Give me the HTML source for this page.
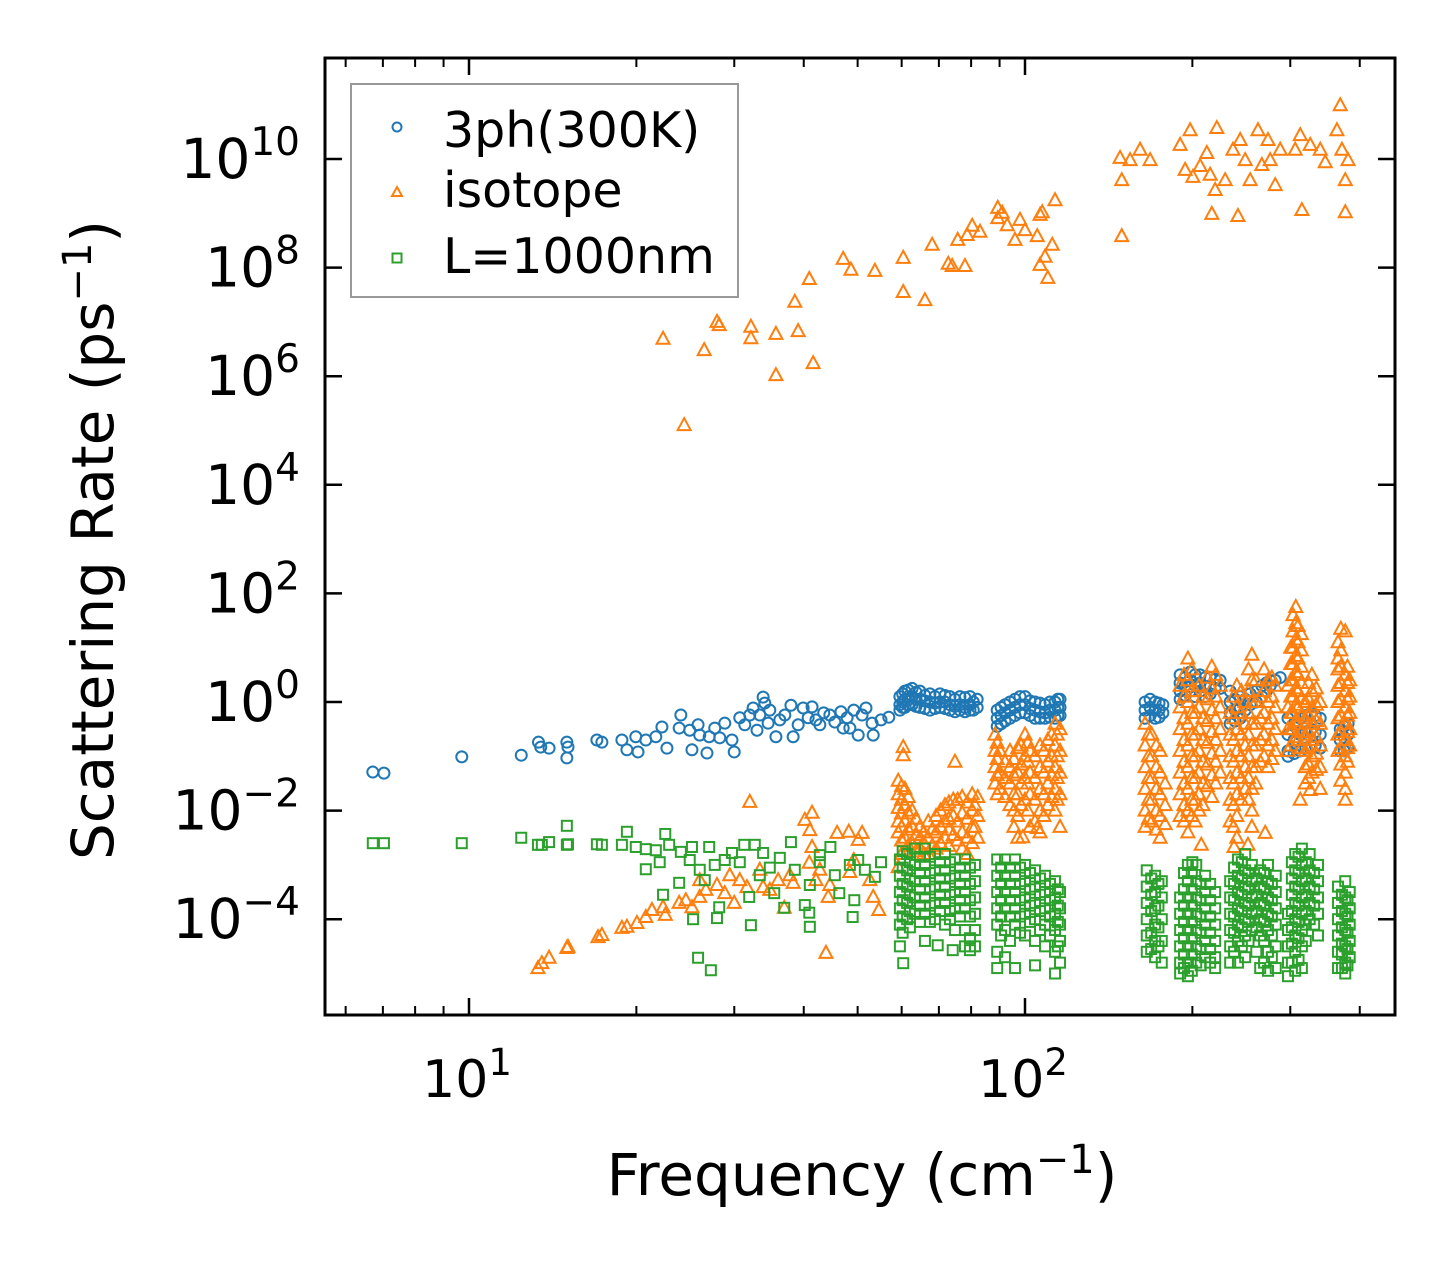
<!DOCTYPE html>
<html><head><meta charset="utf-8"><style>
html,body{margin:0;padding:0;background:#fff;}
svg{display:block;font-family:"DejaVu Sans","Liberation Sans",sans-serif;}
</style></head><body>
<svg id="chart" width="1455" height="1265" viewBox="0 0 1455 1265">
<rect x="0" y="0" width="1455" height="1265" fill="#fff"/>
<g id="marks"></g>
<g id="axes"></g>
<g id="legend">
<rect x="351" y="84" width="387" height="213" fill="#fff" fill-opacity="0.8" stroke="#999" stroke-width="2"/>
<circle cx="397" cy="127" r="4.5" fill="none" stroke="#1f77b4" stroke-width="2"/>
<text x="443" y="147" font-size="49">3ph(300K)</text>
<polygon points="397,187 402,196 392,196" fill="none" stroke="#ff7f0e" stroke-width="2"/>
<text x="443" y="207" font-size="49">isotope</text>
<rect x="392.5" y="253.5" width="9" height="9" fill="none" stroke="#2ca02c" stroke-width="2"/>
<text x="443" y="273" font-size="49">L=1000nm</text>
</g>
<text x="862" y="1195" font-size="58" text-anchor="middle">Frequency (cm<tspan dy="-22" font-size="40">−1</tspan><tspan dy="22">)</tspan></text>
<text transform="translate(113,540) rotate(-90)" font-size="58" text-anchor="middle">Scattering Rate (ps<tspan dy="-22" font-size="40">−1</tspan><tspan dy="22">)</tspan></text>
</svg>
<script>
// All values are log10 of frequency (cm^-1) and log10 of scattering rate (ps^-1)
const xTickExps = [1, 2];
const yTickExps = [-4, -2, 0, 2, 4, 6, 8, 10];
const xMinorVals = [6, 7, 8, 9, 20, 30, 40, 50, 60, 70, 80, 90, 200, 300, 400];

const ph3Freq = [0.827,0.847,0.987,1.094,1.125,1.129,1.144,1.176,1.178,1.176,1.230,1.239,1.275,1.284,1.300,1.304,1.318,1.336,1.347,1.356,1.381,1.378,1.401,1.412,1.428,1.432,1.460,1.473,1.477,1.487,1.511,1.529,1.532,1.538,1.552,1.579,1.583,1.601,1.617,1.624,1.638,1.669,1.673,1.692,1.700,1.714,1.725,1.727,1.741,1.755,1.397,1.415,1.442,1.451,1.496,1.505,1.518,1.559,1.568,1.592,1.610,1.631,1.649,1.658,1.680,1.707,1.685,1.541,1.523];
const ph3Rate = [-1.29,-1.31,-1.01,-0.98,-0.74,-0.83,-0.85,-0.74,-0.83,-1.03,-0.70,-0.74,-0.70,-0.88,-0.64,-0.92,-0.70,-0.64,-0.46,-0.85,-0.24,-0.48,-0.88,-0.42,-0.94,-0.64,-0.39,-0.70,-0.92,-0.29,-0.11,0.09,-0.02,-0.39,-0.64,-0.06,-0.64,-0.11,-0.09,-0.33,-0.20,-0.18,-0.48,-0.15,-0.61,-0.11,-0.39,-0.61,-0.33,-0.28,-0.52,-0.61,-0.48,-0.66,-0.42,-0.24,-0.52,-0.33,-0.24,-0.42,-0.29,-0.42,-0.24,-0.37,-0.29,-0.24,-0.48,-0.15,-0.24];
const ph3ColFreq = [1.775,1.784,1.797,1.811,1.829,1.847,1.865,1.883,1.901,1.914,1.950,1.964,1.982,2.000,2.018,2.036,2.054,2.063,2.216,2.234,2.248,2.279,2.297,2.315,2.333,2.351,2.369,2.387,2.405,2.426,2.441,2.459,2.473,2.495,2.514,2.531,2.567,2.581];
const ph3ColRate = [[0.1,-0.05,-0.15],[0.2,0.05,-0.1],[0.25,0.1,-0.05],[0.2,0.05,-0.1],[0.15,0,-0.15],[0.15,0,-0.1],[0.1,-0.05,-0.15],[0.1,-0.05,-0.15],[0.1,-0.05,-0.15],[0.05,-0.1],[-0.15,-0.3,-0.45],[-0.05,-0.2,-0.35],[0.05,-0.1,-0.25],[0.1,-0.05,-0.2],[0,-0.15,-0.3],[-0.05,-0.2,-0.3],[0,-0.15,-0.3],[0.05,-0.1,-0.25],[0,-0.15,-0.3],[0,-0.15,-0.3],[-0.05,-0.2],[0.5,0.35,0.2,0.05],[0.55,0.4,0.2],[0.5,0.35,0.2],[0.45,0.3,0.15],[0.4,0.25],[0.2,0,-0.2,-0.4],[0.1,-0.1,-0.3],[0.15,-0.05],[0.3,0.1],[0.4,0.3],[0.45],[-0.3,-0.6,-0.9,-1.0],[-0.3,-0.6,-0.9],[-0.2,-0.5,-0.8],[-0.3,-0.6,-0.85],[-0.5,-0.7,-0.9],[-0.4,-0.6,-0.85]];
const ph3Col2Freq = [1.780,1.790,1.804,1.820,1.838,1.856,1.874,1.892,1.907,1.957,1.973,1.991,2.009,2.027,2.045,2.059,2.225,2.241,2.288,2.306,2.324,2.342,2.378,2.396,2.416,2.434,2.450,2.484,2.505,2.522,2.574];
const ph3Col2Rate = [[0.15,0.0,-0.1],[0.22,0.1,-0.05],[0.18,0.05,-0.08],[0.12,0.02,-0.12],[0.1,-0.02,-0.12],[0.12,0.0,-0.12],[0.05,-0.08,-0.18],[0.08,-0.1,-0.18],[0.0,-0.15],[-0.1,-0.25,-0.4],[0.0,-0.15,-0.3],[0.1,-0.05,-0.2],[0.02,-0.12,-0.25],[-0.02,-0.18,-0.3],[0.0,-0.15,-0.28],[0.05,-0.1,-0.25],[0.05,-0.1,-0.25],[-0.02,-0.15,-0.28],[0.45,0.3,0.12],[0.5,0.3,0.1],[0.45,0.28,0.1],[0.42,0.25],[0.05,-0.15,-0.35],[0.05,-0.15],[0.2,0.0],[0.35,0.2],[0.4],[-0.4,-0.7,-0.95],[-0.25,-0.55,-0.85],[-0.25,-0.55,-0.8],[-0.45,-0.65,-0.9]];

const isoFreq = [1.349,1.387,1.423,1.446,1.450,1.507,1.507,1.552,1.552,1.592,1.586,1.619,1.612,1.673,1.687,1.730,1.781,1.781,1.820,1.833,1.862,1.879,1.869,1.892,1.896,1.905,1.919,1.951,1.951,1.959,1.968,1.982,1.991,2.000,2.027,2.022,2.031,2.041,2.036,2.054,2.049,2.027,2.171,2.174,2.174,2.189,2.207,2.225,2.279,2.288,2.297,2.302,2.315,2.327,2.333,2.336,2.342,2.345,2.360,2.374,2.387,2.383,2.396,2.405,2.419,2.426,2.437,2.441,2.450,2.459,2.486,2.495,2.498,2.513,2.531,2.540,2.567,2.570,2.576,2.576,2.561,2.581,
1.124,1.131,1.144,1.176,1.178,1.232,1.239,1.275,1.284,1.302,1.318,1.329,1.349,1.353,1.378,1.390,1.401,1.415,1.426,1.446,1.460,1.477,1.487,1.505,1.500,1.529,1.556,1.567,1.583,1.604,1.617,1.613,1.617,1.612,1.624,1.642,1.646,1.662,1.683,1.700,1.707,1.692,1.727,1.737,1.721,1.415,1.469,1.523,1.577,1.631,1.685,1.541,1.649,
1.781,1.781,1.874,1.772,1.996,2.022,2.317,2.376,2.401,2.432,2.495,2.513,2.576];
const isoRate = [6.69,5.10,6.48,7.00,6.94,6.91,6.70,6.78,6.02,6.83,7.37,6.24,7.79,8.16,7.96,7.94,8.18,7.55,7.40,8.42,8.07,8.51,8.03,8.03,8.60,8.77,8.66,8.91,9.10,9.01,8.78,8.51,8.88,8.69,8.97,8.58,9.02,7.81,8.20,9.24,8.42,8.05,10.02,9.61,8.58,9.98,10.17,9.98,10.26,9.80,10.53,9.67,9.87,10.11,9.71,8.99,9.43,10.57,9.61,10.17,10.35,8.95,9.98,9.61,10.53,9.89,10.35,9.98,9.52,10.17,10.17,10.44,9.06,10.26,10.17,9.94,10.99,10.17,9.61,9.02,10.53,9.98,
-4.90,-4.81,-4.71,-4.53,-4.51,-4.33,-4.29,-4.16,-4.14,-4.07,-3.96,-3.83,-3.78,-3.92,-3.70,-3.65,-3.78,-3.59,-3.46,-3.37,-3.52,-3.70,-3.28,-1.84,-3.41,-3.41,-3.28,-3.79,-3.33,-2.17,-2.04,-2.36,-2.67,-2.96,-3.28,-4.62,-3.59,-2.41,-2.39,-2.54,-2.41,-2.91,-3.59,-3.83,-3.28,-3.28,-3.19,-3.09,-3.19,-3.09,-3.13,-3.46,-3.37,
-0.83,-0.98,-1.10,-3.04,-2.49,-2.32,-2.63,-2.67,-2.63,-2.41,-1.8,-1.62,-1.8];
const isoColFreq = [1.772,1.784,1.797,1.811,1.826,1.840,1.856,1.871,1.887,1.905,1.915,1.946,1.955,1.973,1.987,2.000,2.009,2.027,2.041,2.054,2.063,2.216,2.228,2.243,2.252,2.279,2.293,2.306,2.320,2.336,2.351,2.369,2.381,2.396,2.408,2.423,2.437,2.450,2.473,2.482,2.491,2.504,2.516,2.531,2.563,2.576,2.584];
const isoColRate = [[-1.45,-1.7,-1.95,-2.2,-2.4],[-1.6,-1.9,-2.2,-2.5],[-2.0,-2.3,-2.6],[-2.3,-2.5,-2.7],[-2.2,-2.5,-2.8],[-2.1,-2.4,-2.7],[-1.9,-2.2,-2.5],[-1.8,-2.1,-2.45],[-1.75,-2.05,-2.4,-2.7],[-1.7,-2.0,-2.3,-2.6],[-1.75,-2.1,-2.5],
[-0.6,-0.9,-1.2,-1.5],[-0.9,-1.3,-1.6],[-0.9,-1.2,-1.5,-1.9],[-0.85,-1.3,-1.7,-2.1,-2.5],[-0.6,-1.0,-1.4,-1.8],[-0.9,-1.3,-1.7,-2.3],[-0.8,-1.2,-1.6,-2.0,-2.4],[-0.7,-1.1,-1.5,-1.9],[-0.4,-0.8,-1.2,-1.6,-2.0],[-0.5,-0.9,-1.3,-1.7,-2.3],
[-0.4,-0.8,-1.2,-1.6,-2.0,-2.3],[-0.6,-1.0,-1.4,-1.8,-2.2],[-0.9,-1.3,-1.7,-2.1,-2.5],[-1.5,-1.9,-2.25],
[0.3,-0.1,-0.5,-0.9,-1.3,-1.7,-2.1],[0.8,0.4,0.0,-0.4,-0.8,-1.2,-1.6,-2.0,-2.4],[0.2,-0.2,-0.6,-1.0,-1.4,-1.8,-2.2],[0.1,-0.3,-0.7,-1.1,-1.5,-1.9],[0.65,0.25,-0.15,-0.55,-0.95,-1.35,-1.75],[0.3,-0.1,-0.5,-0.9,-1.3],
[-0.2,-0.6,-1.0,-1.4,-1.8,-2.2],[0.3,-0.1,-0.5,-0.9,-1.3,-1.7,-2.1,-2.5],[0.0,-0.4,-0.8,-1.2,-1.6],[0.87,0.4,0.0,-0.4,-0.8,-1.2,-1.6,-2.0,-2.3],[0.1,-0.3,-0.7,-1.1],[0.4,0.0,-0.4,-0.8,-1.2],[0.3,-0.1,-0.5,-0.9],
[0.3,-0.1,-0.5,-0.9],[1.6,1.3,1.0,0.7,0.4,0.1,-0.2,-0.5],[1.4,1.1,0.8,0.5,0.2,-0.1,-0.4,-0.7],[0.0,-0.3,-0.6,-0.9,-1.2,-1.5],[0.5,0.2,-0.1,-0.4,-0.7,-1.0,-1.3],[0.0,-0.4,-0.8,-1.2,-1.6],
[1.1,0.8,0.6,0.3,0.0,-0.3,-0.6,-0.9],[1.3,0.5,0.2,-0.1,-0.4,-0.7,-1.0,-1.3,-1.6],[0.4,0.1,-0.2,-0.5,-0.8]];
const isoCol2Freq = [1.778,1.790,1.804,1.818,1.833,1.848,1.863,1.879,1.896,1.910,1.950,1.964,1.980,1.993,2.005,2.018,2.034,2.048,2.058,2.222,2.236,2.286,2.300,2.313,2.328,2.343,2.375,2.389,2.402,2.415,2.430,2.444,2.478,2.487,2.497,2.510,2.524,2.568,2.580];
const isoCol2Rate = [[-1.55,-1.8,-2.05,-2.3,-2.55,-2.8],[-1.75,-2.05,-2.35,-2.65],[-2.15,-2.45,-2.75],[-2.4,-2.6,-2.8],[-2.35,-2.65],[-2.0,-2.3,-2.6],[-1.85,-2.15,-2.35,-2.65],[-1.8,-2.2,-2.55],[-1.85,-2.15,-2.5,-2.8],[-1.9,-2.3],
[-0.75,-1.05,-1.35,-1.7],[-1.1,-1.4,-1.75],[-1.05,-1.35,-1.7,-2.0,-2.3],[-0.8,-1.15,-1.5,-1.9],[-0.75,-1.1,-1.5,-2.0],[-1.0,-1.4,-1.8,-2.2],[-0.9,-1.3,-1.7,-2.1],[-0.6,-1.0,-1.35,-1.75],[-0.6,-1.0,-1.4,-1.8],
[-0.6,-1.0,-1.4,-1.8,-2.15],[-0.8,-1.2,-1.6,-2.0,-2.35],
[0.5,0.1,-0.3,-0.7,-1.1,-1.5,-1.9,-2.2],[0.6,0.2,-0.2,-0.6,-1.0,-1.4,-1.8,-2.1],[0.3,-0.1,-0.5,-0.9,-1.3,-1.7,-2.0],[0.45,0.05,-0.35,-0.75,-1.15,-1.55],[0.5,0.1,-0.3,-0.7,-1.1,-1.5],
[0.1,-0.3,-0.7,-1.1,-1.5,-1.9,-2.3],[0.2,-0.2,-0.6,-1.0,-1.4,-1.8],[0.6,0.2,-0.2,-0.6,-1.0,-1.4,-1.8],[0.4,0.0,-0.4,-0.8,-1.2,-1.5],[0.6,0.2,-0.2,-0.6,-1.0],[0.45,0.1,-0.3,-0.7,-1.05],
[1.0,0.7,0.4,0.1,-0.2,-0.5,-0.8],[1.75,1.45,1.15,0.85,0.55,0.25,-0.05,-0.35,-0.65],[1.25,0.95,0.65,0.35,0.05,-0.25,-0.55,-0.85],[0.35,0.05,-0.25,-0.55,-0.85,-1.15,-1.4],[0.25,-0.05,-0.35,-0.65,-0.95,-1.25],
[1.35,0.95,0.65,0.35,0.05,-0.25,-0.55,-0.85,-1.15,-1.45],[0.65,0.35,0.05,-0.25,-0.55,-0.85,-1.1]];

const bndFreq = [0.827,0.847,0.987,1.094,1.124,1.131,1.144,1.176,1.176,1.178,1.230,1.239,1.275,1.284,1.300,1.318,1.318,1.336,1.343,1.353,1.360,1.349,1.378,1.381,1.401,1.403,1.412,1.435,1.432,1.446,1.450,1.460,1.473,1.495,1.507,1.504,1.514,1.529,1.549,1.567,1.579,1.604,1.613,1.612,1.650,1.631,1.666,1.690,1.693,1.700,1.730,1.741,1.397,1.415,1.442,1.487,1.523,1.559,1.586,1.631,1.658,1.685,1.712,1.424,1.541,1.613,
1.781,1.843,1.870,1.901,2.301];
const bndRate = [-2.60,-2.60,-2.60,-2.50,-2.63,-2.63,-2.58,-2.28,-2.63,-2.62,-2.62,-2.63,-2.63,-2.39,-2.67,-2.71,-3.08,-2.73,-2.95,-2.43,-2.63,-3.55,-3.33,-2.76,-2.67,-4.00,-4.71,-4.94,-2.67,-3.98,-3.78,-2.91,-2.78,-2.63,-4.11,-3.59,-2.63,-2.78,-3.52,-3.79,-2.58,-3.74,-4.14,-3.88,-2.67,-2.82,-3.52,-3.96,-3.65,-2.91,-3.22,-2.95,-2.91,-3.09,-3.00,-2.95,-3.19,-2.87,-3.09,-2.95,-3.19,-3.00,-3.09,-3.28,-3.05,-3.37,
-4.81,-4.48,-4.57,-4.57,-2.95];
const bndColFreq = [1.775,1.788,1.802,1.820,1.838,1.856,1.874,1.892,1.910,1.950,1.964,1.982,2.000,2.018,2.036,2.054,2.063,2.219,2.234,2.246,2.279,2.293,2.308,2.324,2.342,2.369,2.383,2.396,2.408,2.423,2.437,2.451,2.473,2.486,2.498,2.512,2.527,2.563,2.576,2.584];
const bndColRate = [[-2.9,-3.2,-3.5,-3.8,-4.1,-4.5],[-2.8,-3.1,-3.4,-3.7,-4.0],[-2.7,-3.0,-3.3,-3.6,-3.9],[-2.7,-3.0,-3.3,-3.6,-3.9,-4.4],[-2.8,-3.1,-3.4,-3.7,-4.0],[-2.8,-3.1,-3.4,-3.7,-4.1],[-2.9,-3.2,-3.5,-3.8,-4.2],[-2.9,-3.2,-3.5,-3.8,-4.2,-4.5],[-3.0,-3.3,-3.6,-3.9,-4.2,-4.5],
[-2.9,-3.2,-3.5,-3.8,-4.1,-4.6,-4.9],[-2.9,-3.2,-3.5,-3.8,-4.2,-4.7],[-2.9,-3.2,-3.5,-3.8,-4.1,-4.9],[-3.0,-3.3,-3.6,-3.9,-4.3],[-3.1,-3.4,-3.7,-4.0,-4.4,-4.85],[-3.2,-3.5,-3.8,-4.1,-4.5],[-3.3,-3.6,-3.9,-4.2,-4.6,-5.0],[-3.5,-3.8,-4.1,-4.4,-4.8],
[-3.1,-3.4,-3.7,-4.0,-4.3,-4.6],[-3.2,-3.5,-3.8,-4.1,-4.4,-4.7],[-3.3,-3.6,-4.0,-4.4,-4.8],
[-3.6,-3.9,-4.2,-4.5,-4.8,-5.0],[-3.0,-3.3,-3.6,-3.9,-4.2,-4.5,-4.8,-5.05],[-3.0,-3.3,-3.6,-3.9,-4.2,-4.5,-4.8],[-3.2,-3.5,-3.8,-4.1,-4.4,-4.7],[-3.5,-3.8,-4.1,-4.4,-4.7,-4.9],
[-3.3,-3.6,-3.9,-4.2,-4.5,-4.8],[-2.9,-3.2,-3.5,-3.8,-4.1,-4.4,-4.8],[-2.8,-3.1,-3.4,-3.7,-4.0,-4.3,-4.7],[-3.0,-3.3,-3.6,-3.9,-4.2],[-3.1,-3.4,-3.7,-4.0,-4.3,-4.9],[-3.0,-3.3,-3.6,-3.9,-4.2,-4.6,-4.95],[-3.2,-3.5,-3.8,-4.1,-4.5,-4.9],
[-3.9,-4.2,-4.5,-4.8,-5.05],[-2.8,-3.1,-3.4,-3.7,-4.0,-4.3,-4.6,-4.95],[-2.7,-3.0,-3.3,-3.6,-3.9,-4.2,-4.5,-4.9],[-2.8,-3.1,-3.4,-3.7,-4.0],[-3.0,-3.3,-3.6,-3.9,-4.3],
[-3.4,-3.7,-4.0,-4.3,-4.6,-4.9],[-3.3,-3.6,-3.9,-4.2,-4.5,-4.8,-5.0],[-3.5,-3.8,-4.1,-4.4,-4.7]];
const bndCol2Freq = [1.780,1.793,1.811,1.829,1.847,1.865,1.883,1.901,1.957,1.973,1.991,2.009,2.027,2.045,2.059,2.227,2.240,2.286,2.300,2.316,2.333,2.376,2.390,2.402,2.416,2.430,2.444,2.480,2.492,2.505,2.520,2.570,2.580];
const bndCol2Rate = [[-2.75,-3.05,-3.35,-3.65,-3.95,-4.25],[-2.95,-3.25,-3.55,-3.85,-4.15],[-2.85,-3.15,-3.45,-3.75,-4.05],[-2.85,-3.15,-3.45,-3.75,-4.05],[-2.95,-3.25,-3.55,-3.85],[-2.95,-3.25,-3.55,-3.85,-4.0],[-3.05,-3.35,-3.65,-3.95],[-3.05,-3.35,-3.65,-3.95,-4.35],
[-3.05,-3.35,-3.65,-3.95,-4.3],[-3.05,-3.35,-3.65,-3.95,-4.4],[-3.05,-3.35,-3.65,-3.95,-4.25],[-3.15,-3.45,-3.75,-4.05],[-3.25,-3.55,-3.85,-4.2],[-3.35,-3.65,-3.95,-4.3],[-3.45,-3.75,-4.05,-4.5],
[-3.25,-3.55,-3.85,-4.25,-4.55],[-3.35,-3.75,-4.15,-4.5],
[-3.15,-3.45,-3.75,-4.05,-4.35,-4.65,-4.9],[-3.15,-3.45,-3.75,-4.05,-4.35,-4.65,-4.95],[-3.35,-3.65,-3.95,-4.25,-4.55,-4.85],[-3.35,-3.65,-3.95,-4.25,-4.55,-4.8],
[-3.05,-3.35,-3.65,-3.95,-4.25,-4.6],[-2.95,-3.25,-3.55,-3.85,-4.15,-4.5],[-3.15,-3.45,-3.75,-4.05,-4.4],[-3.25,-3.55,-3.85,-4.15,-4.6],[-3.15,-3.45,-3.75,-4.05,-4.4,-4.8],[-3.35,-3.65,-3.95,-4.3,-4.7],
[-2.95,-3.25,-3.55,-3.85,-4.15,-4.45,-4.8],[-2.85,-3.15,-3.45,-3.75,-4.05,-4.35,-4.75],[-2.95,-3.25,-3.55,-3.85,-4.1,-4.4],[-3.15,-3.45,-3.75,-4.1],
[-3.55,-3.85,-4.15,-4.45,-4.65,-4.9],[-3.65,-3.95,-4.25,-4.55,-4.85]];

const NS = 'http://www.w3.org/2000/svg';
const L = 325, R = 1395, T = 58, B = 1015;
function xPos(lf){ return 469 + 556 * (lf - 1); }
function yPos(lr){ return 702 - 54.3 * lr; }
const marks = document.getElementById('marks');
const axes = document.getElementById('axes');

function mk(tag, attrs, parent){
  const e = document.createElementNS(NS, tag);
  for (const k in attrs) e.setAttribute(k, attrs[k]);
  parent.appendChild(e);
  return e;
}
function drawMarker(kind, lf, lr, g){
  const x = xPos(lf), y = yPos(lr);
  let e;
  if (kind === 'circle') {
    e = mk('circle', {cx:x, cy:y, r:5.5, fill:'none', stroke:'#1f77b4', 'stroke-width':2}, g);
    
  } else if (kind === 'tri') {
    e = mk('polygon', {points:(x)+','+(y-7)+' '+(x+6.5)+','+(y+5)+' '+(x-6.5)+','+(y+5), fill:'none', stroke:'#ff7f0e', 'stroke-width':2}, g);
    
  } else {
    e = mk('rect', {x:x-5, y:y-5, width:10, height:10, fill:'none', stroke:'#2ca02c', 'stroke-width':2}, g);
    
  }
  
}
function drawSeries(kind, name, fr, rt, cols){
  const g = mk('g', {}, marks);
  
  
  for (let i = 0; i < fr.length; i++) drawMarker(kind, fr[i], rt[i], g);
  for (const [cf, cr] of cols)
    for (let i = 0; i < cf.length; i++) for (const v of cr[i]) drawMarker(kind, cf[i], v, g);
}
drawSeries('circle', 'series-3ph', ph3Freq, ph3Rate, [[ph3ColFreq, ph3ColRate], [ph3Col2Freq, ph3Col2Rate]]);
drawSeries('tri', 'series-isotope', isoFreq, isoRate, [[isoColFreq, isoColRate], [isoCol2Freq, isoCol2Rate]]);
drawSeries('square', 'series-boundary', bndFreq, bndRate, [[bndColFreq, bndColRate], [bndCol2Freq, bndCol2Rate]]);

const frame = mk('rect', {x:L, y:T, width:R-L, height:B-T, fill:'none', stroke:'#000', 'stroke-width':3}, axes);


for (const e of xTickExps){
  const x = xPos(e);
  const t1 = mk('line', {x1:x, y1:B, x2:x, y2:B-17, stroke:'#000', 'stroke-width':2.5}, axes);
  
  
  const t2 = mk('line', {x1:x, y1:T, x2:x, y2:T+17, stroke:'#000', 'stroke-width':2.5}, axes);
  
  
  const lb = mk('text', {x:x-2, y:1097, 'font-size':52, 'text-anchor':'middle'}, axes);
  
  
  lb.innerHTML = '10<tspan dy="-22" font-size="37">' + e + '</tspan>';
}
for (const v of xMinorVals){
  const x = xPos(Math.log10(v));
  if (x < L || x > R) continue;
  const t1 = mk('line', {x1:x, y1:B, x2:x, y2:B-9, stroke:'#000', 'stroke-width':2}, axes);
  
  
  const t2 = mk('line', {x1:x, y1:T, x2:x, y2:T+9, stroke:'#000', 'stroke-width':2}, axes);
  
  
}
for (const e of yTickExps){
  const y = yPos(e);
  const t1 = mk('line', {x1:L, y1:y, x2:L+17, y2:y, stroke:'#000', 'stroke-width':2.5}, axes);
  
  
  const t2 = mk('line', {x1:R, y1:y, x2:R-17, y2:y, stroke:'#000', 'stroke-width':2.5}, axes);
  
  
  const lb = mk('text', {x:300, y:y+19, 'font-size':55, 'text-anchor':'end'}, axes);
  
  
  const s = e < 0 ? '−' + Math.abs(e) : String(e);
  lb.innerHTML = '10<tspan dy="-23" font-size="39">' + s + '</tspan>';
}
</script>
</body></html>
